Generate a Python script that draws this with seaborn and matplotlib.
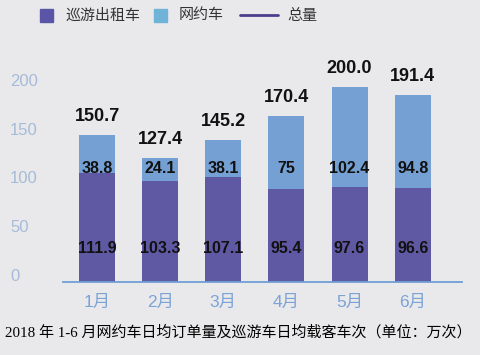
import matplotlib
matplotlib.use("Agg")
import matplotlib.pyplot as plt
import seaborn as sns
import pandas as pd
from matplotlib.patches import Rectangle
from matplotlib.lines import Line2D
from matplotlib.transforms import ScaledTranslation

# ---- data ----
months = ["1月", "2月", "3月", "4月", "5月", "6月"]
taxi = [111.9, 103.3, 107.1, 95.4, 97.6, 96.6]
ride = [38.8, 24.1, 38.1, 75, 102.4, 94.8]
total_labels = ["150.7", "127.4", "145.2", "170.4", "200.0", "191.4"]
ride_labels = ["38.8", "24.1", "38.1", "75", "102.4", "94.8"]
taxi_labels = ["111.9", "103.3", "107.1", "95.4", "97.6", "96.6"]
yticks = [0, 50, 100, 150, 200]
legend_names = ["巡游出租车", "网约车", "总量"]
caption = "2018 年 1-6 月网约车日均订单量及巡游车日均载客车次（单位：万次）"

df = pd.DataFrame({"month": months, "taxi": taxi, "ride": ride})
df["total"] = df["taxi"] + df["ride"]

# ---- style ----
BG = "#e9e9eb"
PURPLE = "#5f59a3"
BLUE = "#75a0d4"
LEG_PURPLE = "#5b55a8"
LEG_BLUE = "#6fb3d8"
LINE = "#4a3f8c"

sns.set_theme(style="white")
plt.rcParams["font.family"] = ["Liberation Sans", "Noto Sans CJK SC", "DejaVu Sans"]

fig = plt.figure(figsize=(4.8, 3.55), dpi=100, facecolor=BG)
W, H = 480, 355
ax = fig.add_axes([63 / W, 73 / H, 399 / W, 214.7 / H])
ax.set_facecolor(BG)

sns.barplot(data=df, x="month", y="total", order=months, color=BLUE,
            saturation=1, width=0.57, errorbar=None, linewidth=0, ax=ax)
sns.barplot(data=df, x="month", y="taxi", order=months, color=PURPLE,
            saturation=1, width=0.57, errorbar=None, linewidth=0, ax=ax)

ax.set_xlim(-0.54, 5.78)
ax.set_ylim(0, 220)
ax.set_xlabel("")
ax.set_ylabel("")
ax.set_yticks(yticks)
ax.set_yticklabels([str(t) for t in yticks])

for s in ["left", "top", "right"]:
    ax.spines[s].set_visible(False)
ax.spines["bottom"].set_color("#6d9fd5")
ax.spines["bottom"].set_linewidth(1.3)

ax.tick_params(axis="both", length=0)
ax.tick_params(axis="y", labelsize=12, labelcolor="#a6bbd8", pad=38)
ax.tick_params(axis="x", labelsize=12.5, labelcolor="#7ba3d6", pad=9)
shift = ScaledTranslation(0, 7 / 100, fig.dpi_scale_trans)
for lab in ax.get_yticklabels():
    lab.set_horizontalalignment("left")
    lab.set_transform(lab.get_transform() + shift)

# value labels
for i in range(len(months)):
    tot = df["total"][i]
    ax.text(i, tot + 19, total_labels[i], ha="center", va="center",
            fontsize=13, fontweight="bold", color="#111111")
    ax.text(i, 116, ride_labels[i], ha="center", va="center",
            fontsize=11.5, fontweight="bold", color="#111111")
    ax.text(i, 34, taxi_labels[i], ha="center", va="center",
            fontsize=11.5, fontweight="bold", color="#111111")

# legend (manual, figure coords)
def fy(py):
    return 1 - py / H

fig.patches.append(Rectangle((40 / W, fy(22)), 13 / W, 13 / H,
                             transform=fig.transFigure, color=LEG_PURPLE))
fig.patches.append(Rectangle((154 / W, fy(22)), 13 / W, 13 / H,
                             transform=fig.transFigure, color=LEG_BLUE))
fig.lines.append(Line2D([240 / W, 278 / W], [fy(15), fy(15)],
                        transform=fig.transFigure, color=LINE, linewidth=2))
for x, name in zip([66, 179, 287], legend_names):
    fig.text(x / W, fy(15.5), name, ha="left", va="center", fontsize=10.8,
             color="#333333", family=["Noto Sans CJK SC", "DejaVu Sans"])

fig.text(238.5 / W, fy(332), caption, ha="center", va="center", fontsize=10.8,
         color="#000000", family=["Liberation Serif", "Noto Sans CJK SC", "DejaVu Sans"])

fig.savefig("out.png", dpi=100, facecolor=BG)
